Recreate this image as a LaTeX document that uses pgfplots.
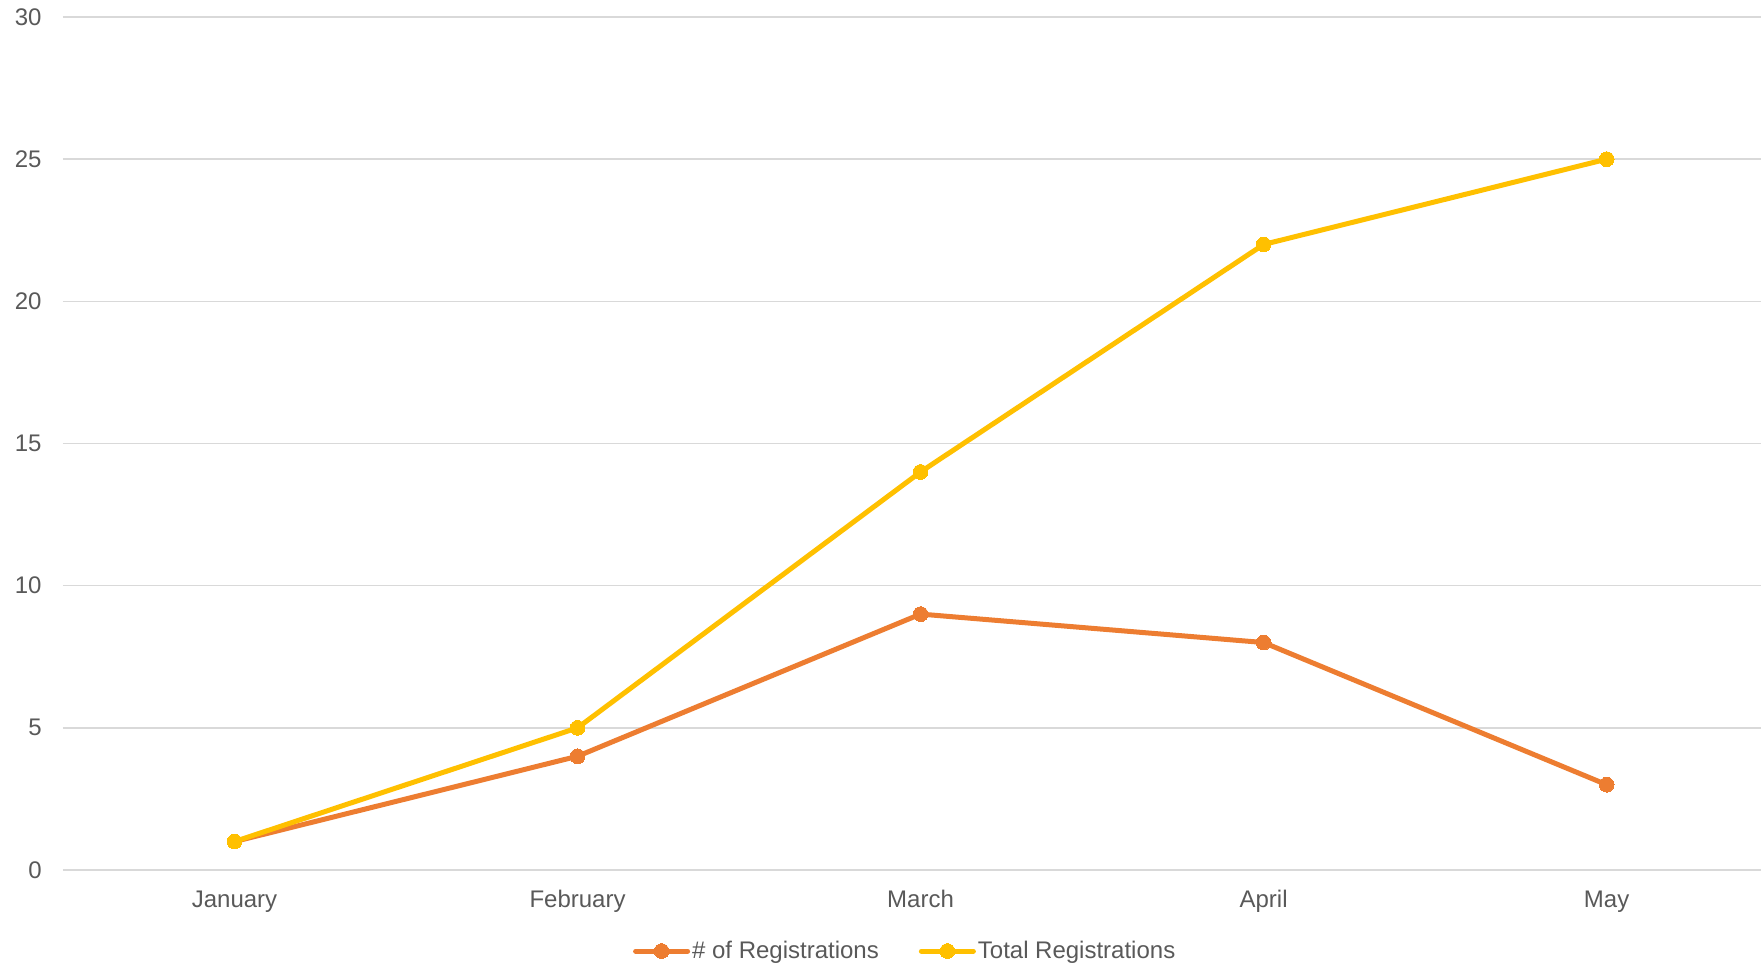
\documentclass[border=0pt]{standalone}
\usepackage{pgfplots}
\pgfplotsset{compat=1.18}
\usepackage{fontspec}
\setmainfont{Liberation Sans}
\definecolor{cOrange}{HTML}{ED7D31}
\definecolor{cGold}{HTML}{FFC000}
\definecolor{cGrid}{HTML}{D9D9D9}
\definecolor{cText}{HTML}{595959}
\begin{document}
\begin{tikzpicture}
\begin{axis}[
  scale only axis,
  width=849pt, height=426.5pt,
  xmin=-0.5, xmax=4.45,
  ymin=0, ymax=30,
  ytick={0,5,10,15,20,25,30},
  xtick={0,1,2,3,4},
  xticklabels={January,February,March,April,May},
  axis line style={draw=none},
  major tick length=0pt,
  ymajorgrids,
  grid style={cGrid, line width=0.75pt},
  font=\fontsize{12}{14}\selectfont,
  /pgf/number format/assume math mode=true,
  ticklabel style={text=cText},
  yticklabel style={anchor=east, inner sep=0pt, xshift=-10.5pt},
  xticklabel style={anchor=base, inner sep=0pt, yshift=-18.5pt},
  legend columns=2,
  legend style={draw=none, fill=none, at={(rel axis cs:0.496,-0.095)}, anchor=center,
    font=\fontsize{12}{14}\selectfont, text=cText,
    /tikz/every even column/.append style={column sep=19pt},
    inner sep=0pt, nodes={inner sep=1pt}},
  legend image code/.code={\draw[mark repeat=2,mark phase=2,line cap=round,#1] plot coordinates {(0pt,0pt) (13pt,0pt) (26pt,0pt)};},
  clip=false,
]
\addplot[color=cOrange, line width=2.5pt, mark=*, mark size=3.7pt, mark options={line width=0pt, fill=cOrange}]
  coordinates {(0,1) (1,4) (2,9) (3,8) (4,3)};
\addlegendentry{\# of Registrations}
\addplot[color=cGold, line width=2.5pt, mark=*, mark size=3.7pt, mark options={line width=0pt, fill=cGold}]
  coordinates {(0,1) (1,5) (2,14) (3,22) (4,25)};
\addlegendentry{Total Registrations}
\end{axis}
\pgfresetboundingbox
\path (current axis.south west) ++(-31.5pt,-47pt) coordinate (bbl);
\path (current axis.north east) ++(0pt,8.5pt) coordinate (btr);
\useasboundingbox (bbl) rectangle (btr);
\end{tikzpicture}
\end{document}
